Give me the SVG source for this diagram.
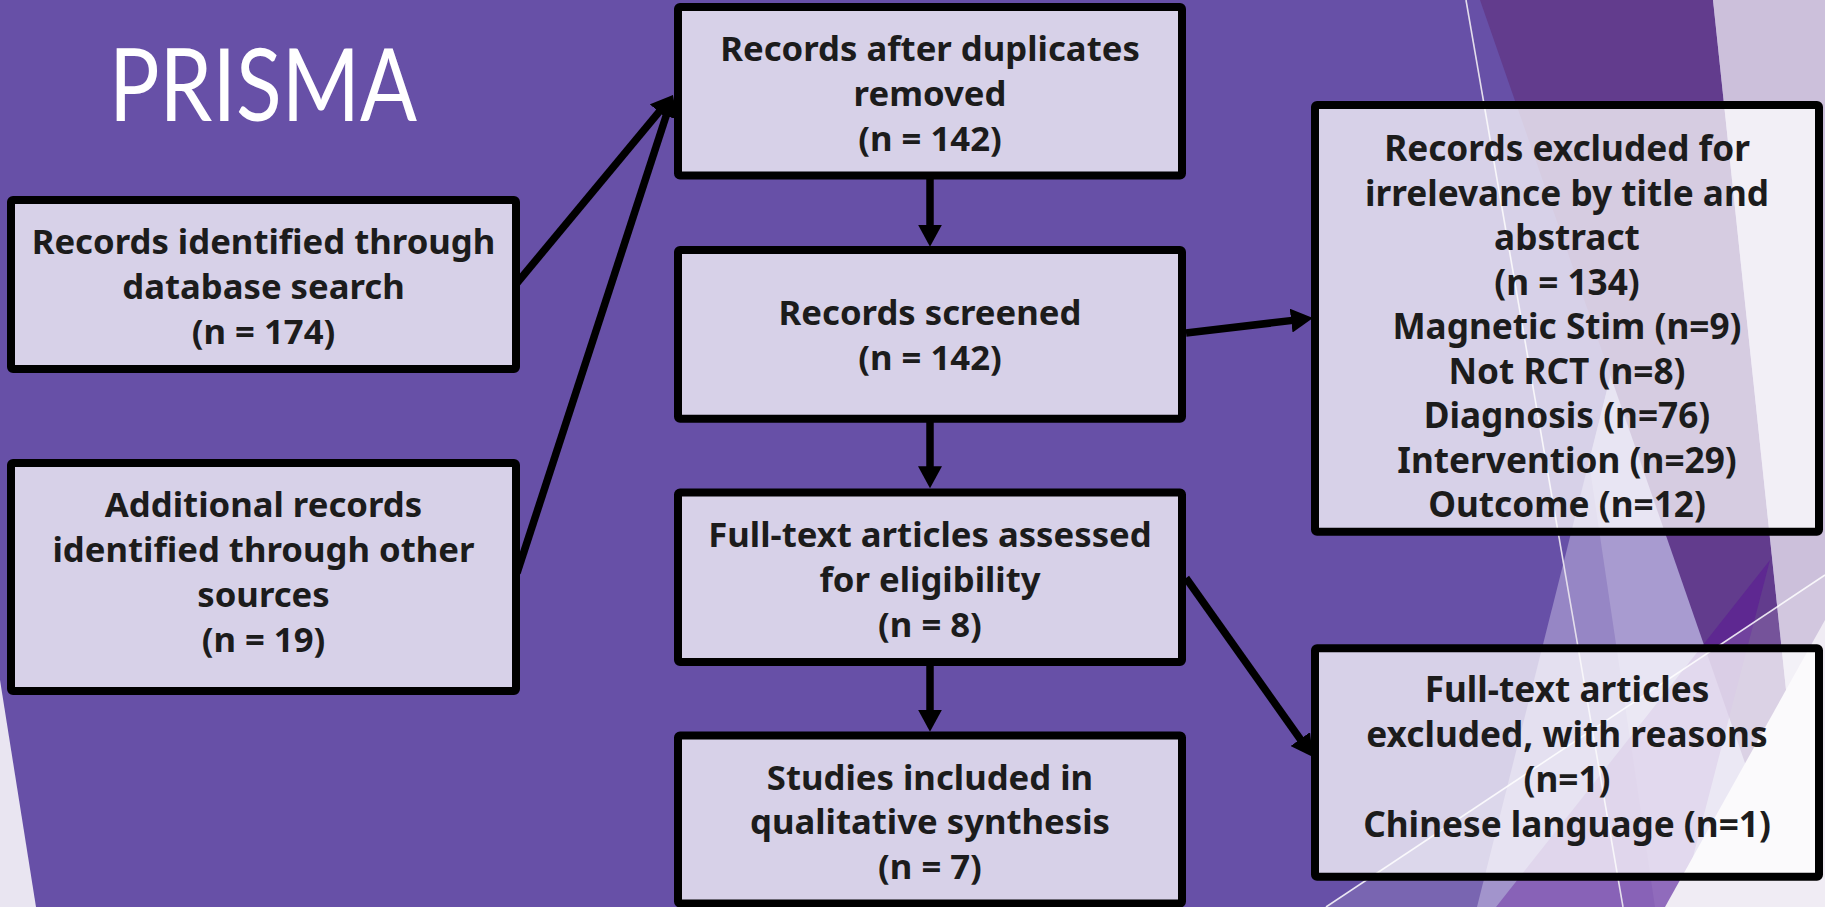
<svg xmlns="http://www.w3.org/2000/svg" width="1825" height="907" viewBox="0 0 1825 907">
<defs>
<style>
.box{fill:#ffffff;fill-opacity:0.74;stroke:#000;stroke-width:8;stroke-linejoin:round}
.t{font-family:"Noto Sans","DejaVu Sans",sans-serif;font-weight:bold;fill:#1c1c1c;text-anchor:middle;font-size:34.7px}
.tr{font-size:35.2px}
.con{stroke:#000;stroke-width:7.5;fill:none;marker-end:url(#ah)}
</style>
<marker id="ah" markerUnits="userSpaceOnUse" markerWidth="22" markerHeight="24" viewBox="0 0 22 24" refX="6" refY="12" orient="auto">
<path d="M0,0 L22,12 L0,24 z" fill="#000"/>
</marker>
</defs>
<g id="background">
<rect x="0" y="0" width="1825" height="907" fill="#6750A7"/>
<polygon points="0,680 36,907 0,907" fill="#E9E5F1"/>
<polygon points="1705,0 1825,0 1825,907 1477,907" fill="#9686C5"/>
<polygon points="1705,0 1825,0 1825,907 1655,907 1589,462" fill="#A89BD0"/>
<polygon points="1480,0 1713,0 1809,907 1795,907" fill="#623C8D"/>
<polygon points="1713,0 1825,0 1825,907 1809,907" fill="#CCC0DB"/>
<polygon points="1496,907 1770,560 1680,907" fill="#5A1496" fill-opacity="0.5"/>
<polygon points="1326,907 1825,575 1825,907" fill="#ffffff" fill-opacity="0.12"/>
<polygon points="1825,620 1825,907 1665,907" fill="#F0ECF4"/>
<line x1="1466" y1="0" x2="1623" y2="907" stroke="#E4DEEC" stroke-width="1.6"/>
<line x1="1326" y1="907" x2="1825" y2="575" stroke="#ffffff" stroke-width="1.6" stroke-opacity="0.85"/>
</g>
<text id="title" x="109" y="121" font-family="Lato,'Open Sans',sans-serif" font-size="100" fill="#ffffff" textLength="308" lengthAdjust="spacingAndGlyphs">PRISMA</text>
<g id="node-database">
<rect class="box" x="11" y="200" width="505" height="169" rx="2"/>
<text class="t" x="263.5" y="254">Records identified through</text>
<text class="t" x="263.5" y="299">database search</text>
<text class="t" x="263.5" y="344">(n = 174)</text>
</g>
<g id="node-other">
<rect class="box" x="11" y="463" width="505" height="228" rx="2"/>
<text class="t" x="263.5" y="517">Additional records</text>
<text class="t" x="263.5" y="562">identified through other</text>
<text class="t" x="263.5" y="607">sources</text>
<text class="t" x="263.5" y="652">(n = 19)</text>
</g>
<g id="node-duplicates">
<rect class="box" x="678" y="7" width="504" height="168.5" rx="2"/>
<text class="t" x="930" y="61">Records after duplicates</text>
<text class="t" x="930" y="106">removed</text>
<text class="t" x="930" y="151">(n = 142)</text>
</g>
<g id="node-screened">
<rect class="box" x="678" y="250" width="504" height="168.7" rx="2"/>
<text class="t" x="930" y="325">Records screened</text>
<text class="t" x="930" y="370">(n = 142)</text>
</g>
<g id="node-fulltext">
<rect class="box" x="678" y="492.5" width="504" height="169.5" rx="2"/>
<text class="t" x="930" y="547">Full-text articles assessed</text>
<text class="t" x="930" y="592">for eligibility</text>
<text class="t" x="930" y="637">(n = 8)</text>
</g>
<g id="node-included">
<rect class="box" x="678" y="735.5" width="504" height="168" rx="2"/>
<text class="t" x="930" y="789.5">Studies included in</text>
<text class="t" x="930" y="834">qualitative synthesis</text>
<text class="t" x="930" y="878.5">(n = 7)</text>
</g>
<g id="node-excluded">
<rect class="box" x="1315" y="105" width="504" height="426.7" rx="2"/>
<text class="t tr" x="1567" y="161">Records excluded for</text>
<text class="t tr" x="1567" y="205.5">irrelevance by title and</text>
<text class="t tr" x="1567" y="250">abstract</text>
<text class="t tr" x="1567" y="294.5">(n = 134)</text>
<text class="t tr" x="1567" y="339">Magnetic Stim (n=9)</text>
<text class="t tr" x="1567" y="383.6">Not RCT (n=8)</text>
<text class="t tr" x="1567" y="428">Diagnosis (n=76)</text>
<text class="t tr" x="1567" y="472.8">Intervention (n=29)</text>
<text class="t tr" x="1567" y="517.4">Outcome (n=12)</text>
</g>
<g id="node-fulltext-excluded">
<rect class="box" x="1315" y="648.3" width="504" height="228.4" rx="2"/>
<text class="t tr" x="1567" y="701.7">Full-text articles</text>
<text class="t tr" x="1567" y="747.3">excluded, with reasons</text>
<text class="t tr" x="1567" y="792.3">(n=1)</text>
<text class="t tr" x="1567" y="837.3">Chinese language (n=1)</text>
</g>
<g id="connectors">
<line class="con" x1="517" y1="283" x2="662.8" y2="107.3"/>
<line class="con" x1="517" y1="573" x2="668" y2="110.2"/>
<line class="con" x1="930" y1="178" x2="930" y2="230.7"/>
<line class="con" x1="930" y1="422" x2="930" y2="472.3"/>
<line class="con" x1="930" y1="665" x2="930" y2="715.7"/>
<line class="con" x1="1186" y1="333" x2="1297.1" y2="319.9"/>
<line class="con" x1="1186" y1="578" x2="1303.7" y2="744"/>
</g>
</svg>
